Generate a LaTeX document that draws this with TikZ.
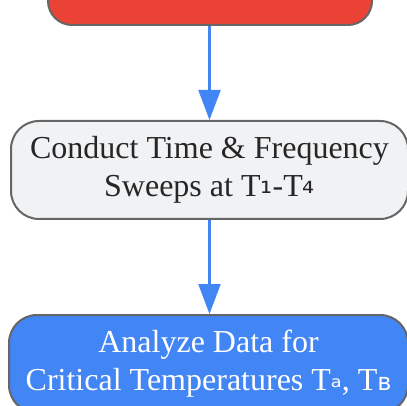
\documentclass[tikz,border=0pt]{standalone}
\usepackage{fontspec}
\setmainfont{Liberation Serif}
\newfontfamily\subfont{DejaVu Sans}
\usetikzlibrary{arrows.meta}

\definecolor{flowred}{HTML}{EA4335}
\definecolor{flowblue}{HTML}{4285F4}
\definecolor{flowgray}{HTML}{F1F2F4}
\definecolor{flowedge}{HTML}{666666}

\newcommand{\lowch}[3]{\raisebox{#2pt}{\subfont\fontsize{#1}{#1}\selectfont #3}}
\newcommand{\twolines}[2]{\raisebox{-4pt}{\begin{tabular}{@{}c@{}}#1\\#2\end{tabular}}}

\begin{document}
\begin{tikzpicture}[ x={(1pt,0pt)}, y={(0pt,-1pt)}, >={Triangle[width=22pt,length=30pt]} ]
    \def\w{397}
    \def\h{98}
    \tikzset{
      stepbox/.style={draw=flowedge, line width=2pt, rounded corners=28pt, minimum width=\w pt, minimum height=\h pt, inner sep=0pt, font=\fontsize{32}{38}\selectfont},
      flow/.style={->, flowblue, line width=2.2pt}
    }
    \useasboundingbox (0,0) rectangle (407,406);
    \clip (0,0) rectangle (407,406);

    % --- Nodes ---
    \node[stepbox, fill=flowred, minimum width=324pt, minimum height=80pt, rounded corners=24pt] (prep) at (210,-15) {};
    \node[stepbox, fill=flowgray, text=black!85] (sweep) at (209.5,170) {\twolines{Conduct Time \& Frequency}{Sweeps at T\lowch{30}{3}{₁}-T\lowch{30}{3}{₄}}};
    \node[stepbox, fill=flowblue, text=white, minimum width=399pt] (analyze) at (208.5,364) {\twolines{Analyze Data for}{Critical Temperatures T\lowch{28}{3}{ₐ}, T\lowch{24}{0}{ʙ}}};

    % --- Arrows ---
    \draw[flow] (prep.south -| sweep.north) -- (sweep.north);
    \draw[flow] (sweep.south) -- (analyze.north -| sweep.south);
\end{tikzpicture}
\end{document}
